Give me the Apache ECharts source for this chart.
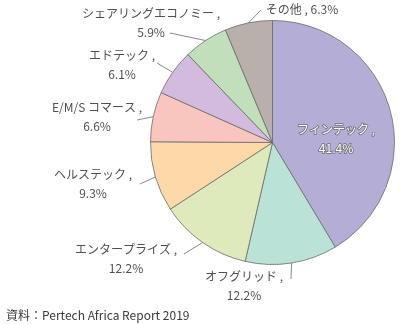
<!DOCTYPE html>
<html>
<head>
<meta charset="utf-8">
<script src="https://cdn.jsdelivr.net/npm/echarts@6/dist/echarts.min.js"></script>
<style>
  html, body { margin: 0; padding: 0; background: #fff; }
  #chart { width: 400px; height: 324px; }
</style>
</head>
<body>
<div id="chart"></div>
<script>
// Sector shares (%) of startup funding, clockwise from 12 o'clock
const categories = ['フィンテック', 'オフグリッド', 'エンタープライズ', 'ヘルステック', 'E/M/S コマース', 'エドテック', 'シェアリングエコノミー', 'その他'];
const shares = [41.4, 12.2, 12.2, 9.3, 6.6, 6.1, 5.9, 6.3];
const sliceColors = ['#b4aed6', '#bae2d7', '#dfeabc', '#fdd9a9', '#f8c6bf', '#d2bbdc', '#c0dfba', '#b9b0ab'];
const singleLineLabels = ['その他'];
const sourceNote = '資料：Pertech Africa Report 2019';

// Label centre and leader-line end point for each slice
const labelPlacement = [
  { x: 336, y: 139 },
  { x: 244, y: 286, end: [291, 279] },
  { x: 126, y: 259, end: [184, 254] },
  { x: 93,  y: 184, end: [140, 184] },
  { x: 97,  y: 117, end: [137, 120] },
  { x: 122, y: 65,  end: [157, 63] },
  { x: 151, y: 23,  end: [170, 33] },
  { x: 302, y: 9,   end: [261, 10] }
];

const FONT = '"Noto Sans CJK JP", "Noto Sans", sans-serif';

const chart = echarts.init(document.getElementById('chart'), null, { renderer: 'canvas' });

const pieData = categories.map((name, i) => {
  const item = { name, value: shares[i], itemStyle: { color: sliceColors[i] } };
  if (i === 0) {
    // the largest slice carries its label inside, outlined white text
    item.label = {
      position: 'inside',
      color: '#fff',
      textBorderColor: '#707070',
      textBorderWidth: 1.6
    };
    item.labelLine = { show: false };
  }
  return item;
});

chart.setOption({
  animation: false,
  title: {
    text: sourceNote,
    left: 1,
    top: 304,
    textStyle: { fontFamily: FONT, fontSize: 12, fontWeight: 'normal', color: '#3a3a3a' }
  },
  series: [{
    type: 'pie',
    center: [272.5, 142.5],
    radius: 122,
    startAngle: 90,
    clockwise: true,
    avoidLabelOverlap: false,
    itemStyle: { borderColor: '#6b6b6b', borderWidth: 0.8 },
    label: {
      show: true,
      fontFamily: FONT,
      fontSize: 12,
      lineHeight: 19,
      color: '#505050',
      align: 'center',
      formatter: p => singleLineLabels.includes(p.name)
        ? p.name + ' , ' + p.value + '%'
        : p.name + ' ,\n' + p.value + '%'
    },
    labelLine: {
      show: true,
      length: 6,
      length2: 6,
      lineStyle: { color: '#6b6b6b', width: 0.8 }
    },
    labelLayout: params => {
      const pl = labelPlacement[params.dataIndex];
      const out = { x: pl.x, y: pl.y, align: 'center', verticalAlign: 'middle' };
      if (pl.end && params.labelLinePoints) {
        out.labelLinePoints = [params.labelLinePoints[0], pl.end];
      }
      return out;
    },
    data: pieData
  }]
});
</script>
</body>
</html>
